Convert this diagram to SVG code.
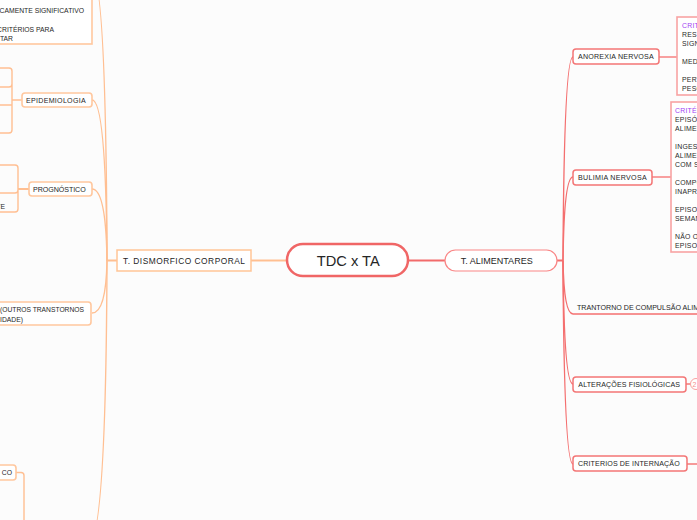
<svg xmlns="http://www.w3.org/2000/svg" width="697" height="520" viewBox="0 0 697 520">
<defs>
<style>
.t{font-family:"Liberation Sans",Arial,sans-serif;fill:#262626;}
.l2{font-size:7.1px;letter-spacing:0.3px;}
.l2n{font-size:6.8px;letter-spacing:0;}
.l1{font-size:8.4px;}
.co{font-family:"Liberation Sans",Arial,sans-serif;font-size:6.9px;letter-spacing:0.25px;fill:#2a2a2a;}
.pur{fill:#a244f2;}
.rbox{fill:#fff;stroke:#f37676;stroke-width:1.5;}
.obox{fill:#fff;stroke:#ffc79e;stroke-width:1.6;}
.call{fill:#fff;stroke:#f8a3a3;stroke-width:1.6;}
.rc{fill:none;stroke:#f46f6f;stroke-width:1.4;}
.oc{fill:none;stroke:#ffbf92;stroke-width:1.4;}
</style>
</defs>
<rect x="0" y="0" width="697" height="520" fill="#fcfcfc"/>

<g id="connectors">
  <line x1="408" y1="260.5" x2="445" y2="260.5" stroke="#f26b6b" stroke-width="2"/>
  <line x1="251" y1="260.5" x2="287" y2="260.5" stroke="#ffbf91" stroke-width="2"/>
  <line x1="557" y1="260.5" x2="563" y2="260.5" stroke="#f46f6f" stroke-width="2"/>
  <path class="rc" d="M563 261 Q564 57 573 57"/>
  <path class="rc" d="M563 261 Q564 177 573 177"/>
  <path class="rc" d="M563 261 Q564 314 573 314"/>
  <path class="rc" d="M563 261 Q564 384 573 384"/>
  <path class="rc" d="M563 261 Q564 464 573 464"/>
  <line x1="659" y1="57" x2="677" y2="57" stroke="#f8a0a0" stroke-width="2"/>
  <line x1="652" y1="177" x2="671" y2="177" stroke="#f8a0a0" stroke-width="2"/>
  <line x1="686" y1="384" x2="690.5" y2="384" stroke="#f46f6f" stroke-width="1.4"/>
  <line x1="687" y1="464" x2="697" y2="464" stroke="#f46f6f" stroke-width="1.4"/>
  <line x1="117" y1="260.5" x2="107" y2="260.5" stroke="#ffbf91" stroke-width="2"/>
  <path class="oc" d="M107 261 Q106 -25 92 -25"/>
  <path class="oc" d="M107 261 Q106 100 92 100"/>
  <path class="oc" d="M107 261 Q106 189 92 189"/>
  <path class="oc" d="M107 261 Q106 313 92 313"/>
  <path class="oc" d="M107 261 Q106 545 88 545"/>
  <path class="oc" d="M22 100 H12 M0 68 H9 Q12 68 12 71 V130 Q12 133 9 133 H0 M0 87 H9 Q12 87 12 84 M0 105 H12"/>
  <path class="oc" d="M0 165 H15 Q18 165 18 168 V209 Q18 212 15 212 H0 M0 193 H15 Q18 193 18 190"/>
  <line x1="29" y1="189" x2="18" y2="189" stroke="#ffbf92" stroke-width="2"/>
  <path class="oc" d="M16 472.5 H21 Q24 472.5 24 475.5 V520"/>
</g>

<g id="center">
  <rect x="287" y="244" width="121" height="32" rx="16" fill="#fff" stroke="#f06666" stroke-width="2.5"/>
  <text class="t" x="316.7" y="266" font-size="15" textLength="63" lengthAdjust="spacingAndGlyphs">TDC x TA</text>
</g>

<g id="t-alimentares">
  <rect x="445" y="250" width="112" height="21" rx="10.5" fill="#fff" stroke="#f98686" stroke-width="1.2"/>
  <text class="t l1" x="460.7" y="263.5" textLength="72" lengthAdjust="spacingAndGlyphs">T. ALIMENTARES</text>
</g>

<g id="t-dismorfico">
  <rect x="117" y="250" width="134" height="21" fill="#fff" stroke="#ffc596" stroke-width="1.5"/>
  <text class="t l1" x="123" y="263.5" textLength="122" lengthAdjust="spacing">T. DISMORFICO CORPORAL</text>
</g>

<g id="anorexia">
  <rect class="rbox" x="573" y="49" width="86" height="15" rx="3"/>
  <text class="t l2" x="578" y="59.2" textLength="76" lengthAdjust="spacing">ANOREXIA NERVOSA</text>
</g>
<g id="anorexia-criterios">
  <rect class="call" x="677" y="17" width="40" height="78"/>
  <text class="co pur" x="682" y="27.5">CRITÉRIOS</text>
  <text class="co" x="682" y="36.5">RESTRIÇÃO</text>
  <text class="co" x="682" y="45.5">SIGNIFICATIVAMENTE</text>
  <text class="co" x="682" y="64">MEDO</text>
  <text class="co" x="682" y="81.5">PERTURBAÇÃO</text>
  <text class="co" x="682" y="90.5">PESO</text>
</g>

<g id="bulimia">
  <rect class="rbox" x="573" y="170" width="79" height="15" rx="3"/>
  <text class="t l2" x="578" y="180.2" textLength="69" lengthAdjust="spacing">BULIMIA NERVOSA</text>
</g>
<g id="bulimia-criterios">
  <rect class="call" x="671" y="102" width="50" height="150"/>
  <text class="co pur" x="675" y="112.5">CRITÉRIOS</text>
  <text class="co" x="675" y="121.5">EPISÓDIOS</text>
  <text class="co" x="675" y="130.5">ALIMENTARES</text>
  <text class="co" x="675" y="148.5">INGESTÃO</text>
  <text class="co" x="675" y="157.5">ALIMENTOS</text>
  <text class="co" x="675" y="166.5">COM SENSAÇÃO</text>
  <text class="co" x="675" y="184.5">COMPORTAMENTO</text>
  <text class="co" x="675" y="193.5">INAPROPRIADO</text>
  <text class="co" x="675" y="211.5">EPISODIOS</text>
  <text class="co" x="675" y="220.5">SEMANA</text>
  <text class="co" x="675" y="238.5">NÃO OCORRE</text>
  <text class="co" x="675" y="247.5">EPISODIOS</text>
</g>

<g id="compulsao">
  <text class="t l2" x="577" y="310" style="letter-spacing:0px">TRANTORNO DE COMPULSÃO ALIMENTAR</text>
  <line x1="573" y1="314" x2="697" y2="314" stroke="#f46f6f" stroke-width="1.4"/>
</g>

<g id="alteracoes">
  <rect class="rbox" x="573" y="377" width="113" height="15" rx="3"/>
  <text class="t l2" x="578.3" y="387.2" textLength="102" lengthAdjust="spacing">ALTERAÇÕES FISIOLÓGICAS</text>
  <circle cx="696" cy="384" r="5.5" fill="#fff" stroke="#f9a0a0" stroke-width="1"/>
  <text x="694.5" y="386.5" font-family="Liberation Sans, Arial, sans-serif" font-size="7" fill="#f59090" text-anchor="middle">2</text>
</g>

<g id="internacao">
  <rect class="rbox" x="573" y="456" width="114" height="15" rx="3"/>
  <text class="t l2" x="578" y="466.2" textLength="102" lengthAdjust="spacing">CRITERIOS DE INTERNAÇÃO</text>
</g>

<g id="tdc-criterios">
  <rect class="obox" x="-10" y="-80" width="102" height="124" stroke-width="1.3"/>
  <text class="t l2n" x="84" y="12.5" text-anchor="end">CLINICAMENTE SIGNIFICATIVO</text>
  <text class="t l2n" x="54" y="31.5" text-anchor="end">CRITÉRIOS PARA</text>
  <text class="t l2n" x="13" y="40.5" text-anchor="end">ALIMENTAR</text>
</g>

<g id="epidemiologia">
  <rect class="obox" x="22" y="93" width="70" height="14" rx="3"/>
  <text class="t l2" x="26" y="102.6" textLength="60" lengthAdjust="spacing">EPIDEMIOLOGIA</text>
</g>

<g id="prognostico">
  <rect class="obox" x="29" y="182" width="63" height="14" rx="3"/>
  <text class="t l2" x="33" y="191.6" textLength="53" lengthAdjust="spacing">PROGNÓSTICO</text>
  <text class="t l2n" x="5" y="208.5" text-anchor="end">TE</text>
</g>

<g id="comorbidade">
  <rect class="obox" x="-20" y="302" width="111" height="23" rx="3"/>
  <text class="t l2n" x="0" y="312" textLength="84" lengthAdjust="spacingAndGlyphs">(OUTROS TRANSTORNOS</text>
  <text class="t l2n" x="0" y="322" textLength="23" lengthAdjust="spacingAndGlyphs">IDADE)</text>
</g>

<g id="co-node">
  <rect class="obox" x="-20" y="465" width="36" height="15" rx="3"/>
  <text class="t l2n" x="12" y="474.5" text-anchor="end">CO</text>
</g>
</svg>
